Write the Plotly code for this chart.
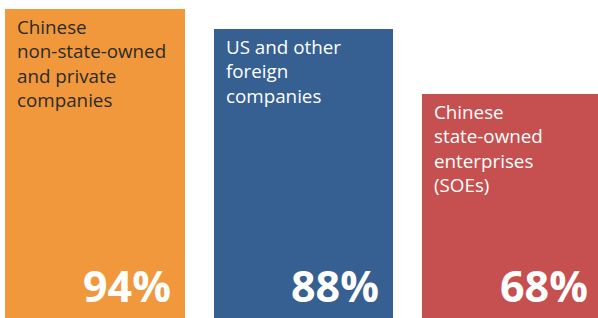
import plotly.graph_objects as go

categories = [
    "Chinese<br>non-state-owned<br>and private<br>companies",
    "US and other<br>foreign<br>companies",
    "Chinese<br>state-owned<br>enterprises<br>(SOEs)",
]
values = [94, 88, 68]
value_labels = ["94%", "88%", "68%"]
colors = ["#F0983B", "#366092", "#C5504F"]
label_colors = ["#2B2B2B", "#FFFFFF", "#FFFFFF"]

W, H = 598, 318
x = list(range(len(values)))
bar_width = 0.863
x_range = [-0.4556, 2.4125]
px_per_unit = W / (x_range[1] - x_range[0])
half_px = bar_width / 2 * px_per_unit

fig = go.Figure(
    go.Bar(
        x=x,
        y=values,
        width=bar_width,
        marker=dict(color=colors, line=dict(width=0)),
        hoverinfo="skip",
    )
)

annotations = []
for i, (cat, v, lbl) in enumerate(zip(categories, values, value_labels)):
    annotations.append(dict(
        x=x[i], y=v, xref="x", yref="y",
        text=cat, showarrow=False, align="left",
        xanchor="left", yanchor="top",
        xshift=-half_px + 10, yshift=-3,
        font=dict(family="Open Sans", size=18.8, color=label_colors[i]),
    ))
    annotations.append(dict(
        x=x[i], y=0, xref="x", yref="y",
        text="<b>" + lbl + "</b>", showarrow=False,
        xanchor="right", yanchor="bottom",
        xshift=half_px - 12, yshift=1,
        font=dict(family="Open Sans", size=43, color="#FFFFFF"),
    ))

fig.update_layout(
    width=W, height=H,
    margin=dict(l=0, r=0, t=0, b=0),
    paper_bgcolor="#FFFFFF", plot_bgcolor="#FFFFFF",
    showlegend=False,
    annotations=annotations,
    xaxis=dict(range=x_range, visible=False, fixedrange=True),
    yaxis=dict(range=[0, 96.7], visible=False, fixedrange=True),
    bargap=0,
)

fig.write_html(
    "out.html",
    config=dict(displayModeBar=False),
    post_script="document.body.style.margin='0';",
)
